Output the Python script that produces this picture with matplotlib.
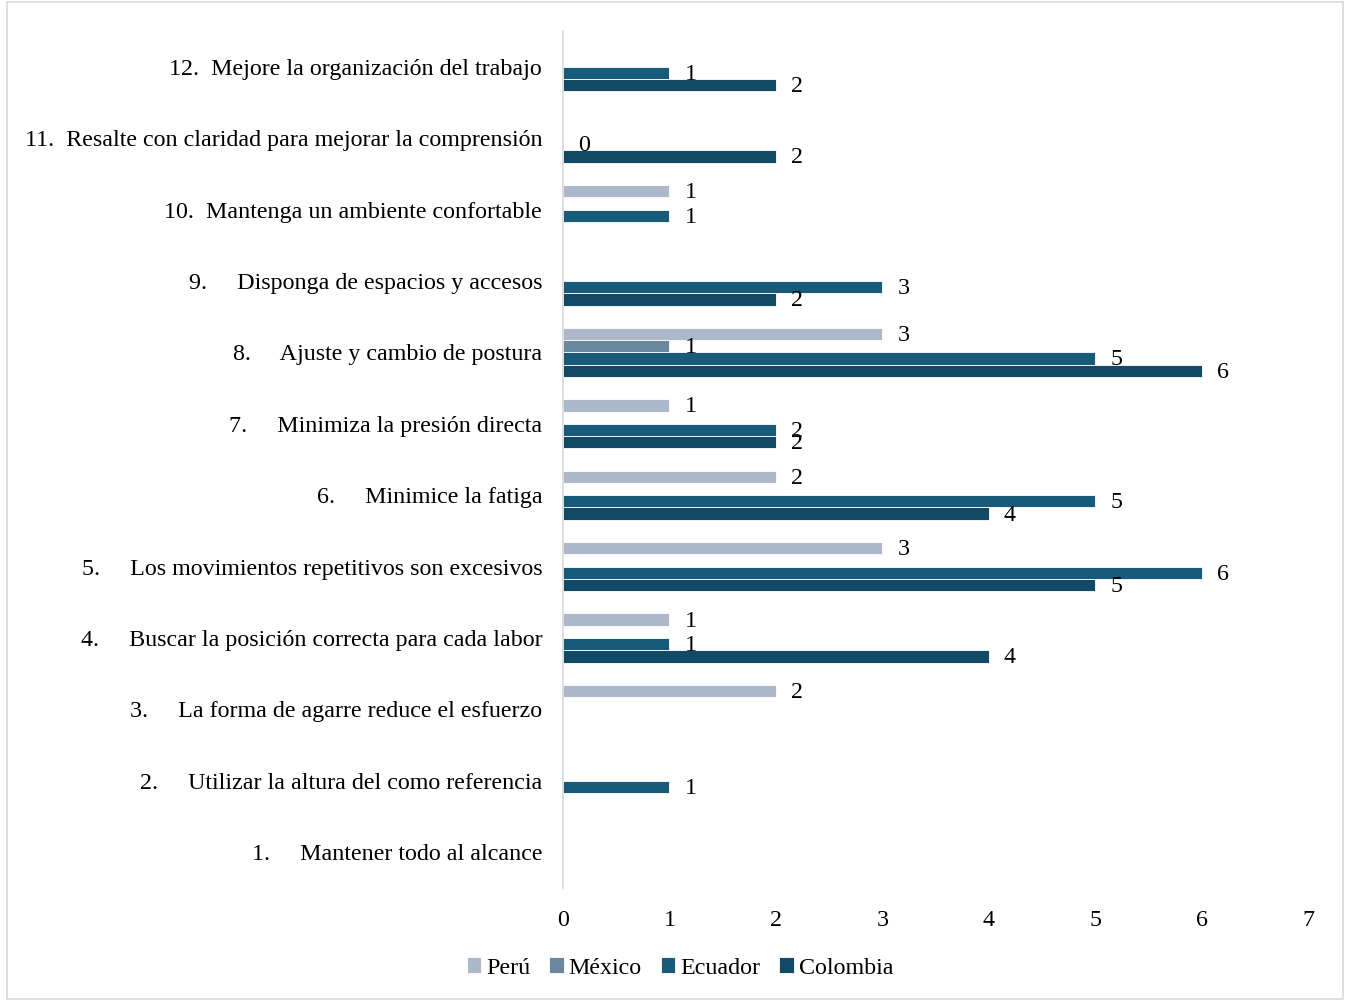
import numpy as np
import matplotlib
matplotlib.use("Agg")
import matplotlib.pyplot as plt
from matplotlib.patches import Rectangle

nan = np.nan
categories = [
    "1.     Mantener todo al alcance",
    "2.     Utilizar la altura del como referencia",
    "3.     La forma de agarre reduce el esfuerzo",
    "4.     Buscar la posición correcta para cada labor",
    "5.     Los movimientos repetitivos son excesivos",
    "6.     Minimice la fatiga",
    "7.     Minimiza la presión directa",
    "8.     Ajuste y cambio de postura",
    "9.     Disponga de espacios y accesos",
    "10.  Mantenga un ambiente confortable",
    "11.  Resalte con claridad para mejorar la comprensión",
    "12.  Mejore la organización del trabajo",
]
peru     = [nan, nan, 2, 1, 3, 2, 1, 3, nan, 1, nan, nan]
mexico   = [nan, nan, nan, nan, nan, nan, nan, 1, nan, nan, nan, nan]
ecuador  = [nan, 1, nan, 1, 6, 5, 2, 5, 3, 1, 0, 1]
colombia = [nan, nan, nan, 4, 5, 4, 2, 6, 2, nan, 2, 2]
series_names = ["Perú", "México", "Ecuador", "Colombia"]
colors = ["#ADB9CA", "#6A879E", "#175A7A", "#124A66"]
xticks = [0, 1, 2, 3, 4, 5, 6, 7]

plt.rcParams['font.family'] = ['Liberation Serif', 'DejaVu Serif']
FS = 17.3

fig = plt.figure(figsize=(13.49, 10.01), dpi=100)
ax = fig.add_axes([563/1349, 1-888/1001, (1308-563)/1349, (888-31)/1001])

y = np.arange(len(categories))
h = 0.172
offsets = [1.5*h, 0.5*h, -0.5*h, -1.5*h]
for vals, name, col, off in zip([peru, mexico, ecuador, colombia], series_names, colors, offsets):
    v = np.array(vals, dtype=float)
    ax.barh(y + off, np.nan_to_num(v), height=h, color=col, edgecolor="white",
            linewidth=0.6, label=name)
    for yi, vi in zip(y, v):
        if not np.isnan(vi):
            ax.text(vi + 0.2, yi + off - 0.02, f"{int(vi)}", ha="center", va="center",
                    fontsize=FS, color="black")

ax.set_xlim(0, 7)
ax.set_ylim(-0.5, 11.5)
ax.set_xticks(xticks)
ax.set_xticklabels([str(t) for t in xticks], fontsize=FS)
ax.set_yticks(y)
ax.set_yticklabels(categories, fontsize=FS)
ax.tick_params(axis="x", length=0, pad=16)
ax.tick_params(axis="y", length=0, pad=15)
for s in ["top", "right", "bottom"]:
    ax.spines[s].set_visible(False)
ax.spines["left"].set_color("#D9D9D9")
ax.spines["left"].set_linewidth(1.2)

leg = fig.legend(*ax.get_legend_handles_labels(), loc="center", bbox_to_anchor=(680/1349, 1-968/1001),
                 ncol=4, frameon=False, fontsize=FS, handlelength=0.6, handleheight=0.6,
                 handletextpad=0.2, columnspacing=0.8)

fig.patches.append(Rectangle((7/1349, 1-999/1001), 1336/1349, 997/1001, transform=fig.transFigure,
                             fill=False, edgecolor="#D9D9D9", linewidth=1.2))

fig.savefig("out.png", dpi=100, facecolor="white")
